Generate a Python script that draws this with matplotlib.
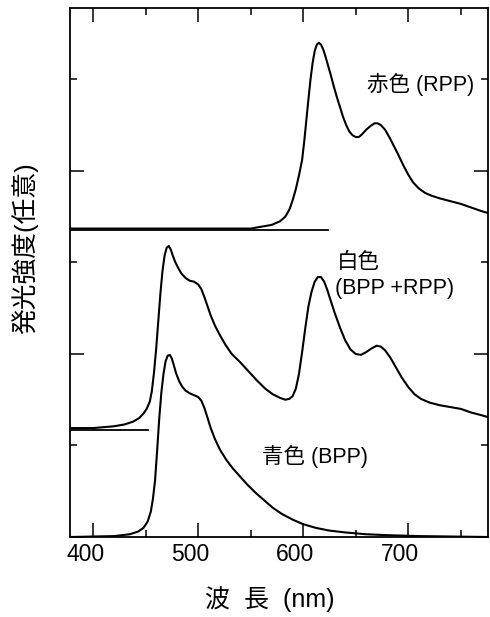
import numpy as np
import matplotlib
matplotlib.use("Agg")
import matplotlib.pyplot as plt
from matplotlib.ticker import MultipleLocator, FixedLocator
from matplotlib.transforms import ScaledTranslation

plt.rcParams['font.family'] = ['Liberation Sans', 'Noto Sans CJK JP', 'DejaVu Sans']

# emission spectra (wavelength nm, intensity in arb. stacked units)
blue_nm = [378, 420, 435, 443, 448, 452, 455, 457, 459, 461, 463, 465, 467, 469, 471, 473,
           475, 477, 479, 482, 485, 488, 492, 496, 500, 503, 506, 509, 512, 516, 521, 527,
           533, 540, 547, 555, 563, 571, 580, 590, 600, 612, 625, 640, 660, 680, 710, 776]
blue_int = [0.00, 0.01, 0.03, 0.06, 0.10, 0.17, 0.28, 0.42, 0.62, 0.95, 1.30, 1.58, 1.78,
            1.92, 1.98, 1.99, 1.95, 1.87, 1.79, 1.70, 1.64, 1.60, 1.57, 1.55, 1.53, 1.49,
            1.41, 1.30, 1.19, 1.07, 0.95, 0.84, 0.75, 0.66, 0.57, 0.48, 0.40, 0.32, 0.25,
            0.19, 0.14, 0.10, 0.07, 0.05, 0.03, 0.02, 0.01, 0.00]

white_nm = [378, 400, 420, 430, 438, 444, 448, 451, 454, 456, 458, 460, 462, 464, 466, 468,
            470, 472, 474, 476, 478, 481, 484, 488, 492, 496, 500, 503, 506, 509, 512, 516,
            521, 526, 532, 540, 548, 556, 564, 571, 578, 583, 587, 590, 593, 596, 599, 602,
            605, 608, 611, 614, 617, 620, 623, 626, 630, 635, 640, 645, 650, 655, 660, 665,
            670, 674, 678, 683, 688, 694, 700, 706, 712, 720, 730, 740, 750, 760, 770, 776]
white_int = [1.19, 1.19, 1.21, 1.23, 1.26, 1.30, 1.35, 1.40, 1.48, 1.60, 1.80, 2.05, 2.35,
             2.65, 2.90, 3.07, 3.16, 3.18, 3.14, 3.07, 3.01, 2.94, 2.88, 2.83, 2.80, 2.79,
             2.76, 2.71, 2.62, 2.52, 2.42, 2.31, 2.20, 2.10, 2.00, 1.91, 1.81, 1.71, 1.62,
             1.56, 1.52, 1.50, 1.51, 1.54, 1.62, 1.78, 2.02, 2.28, 2.52, 2.68, 2.79, 2.84,
             2.84, 2.79, 2.70, 2.59, 2.45, 2.29, 2.15, 2.05, 2.00, 1.99, 2.02, 2.06, 2.09,
             2.08, 2.04, 1.96, 1.86, 1.74, 1.64, 1.56, 1.51, 1.47, 1.44, 1.42, 1.40, 1.36,
             1.33, 1.31]

red_nm = [378, 502, 550, 560, 570, 578, 583, 587, 590, 593, 596, 599, 601, 603, 605, 607,
          609, 611, 613, 615, 617, 619, 621, 623, 626, 629, 632, 635, 638, 641, 644, 647,
          650, 653, 656, 660, 664, 668, 671, 674, 678, 682, 686, 690, 695, 700, 705, 710,
          716, 722, 730, 740, 750, 760, 770, 776]
red_int = [3.37, 3.37, 3.37, 3.39, 3.41, 3.45, 3.50, 3.58, 3.68, 3.80, 3.95, 4.12, 4.32,
           4.55, 4.78, 5.00, 5.18, 5.31, 5.38, 5.40, 5.38, 5.33, 5.26, 5.18, 5.06, 4.93,
           4.81, 4.70, 4.59, 4.50, 4.43, 4.39, 4.37, 4.37, 4.40, 4.45, 4.49, 4.52, 4.52,
           4.50, 4.45, 4.37, 4.28, 4.19, 4.07, 3.96, 3.87, 3.81, 3.76, 3.73, 3.70, 3.67,
           3.64, 3.60, 3.56, 3.54]

# zero lines of the stacked spectra
base_level = [3.355, 1.17]
base_end = [624, 452]

labels = ['赤色 (RPP)', '白色', '(BPP +RPP)', '青色 (BPP)']
label_x = [661, 632, 630.5, 561]
label_y = [4.94, 3.0, 2.71, 0.88]

fig = plt.figure(figsize=(4.9, 6.17), dpi=100)
ax = fig.add_axes([70 / 490, 1 - 537 / 617, 418 / 490, 529 / 617])

lw = 1.5
ax.plot(blue_nm, blue_int, color='black', lw=lw, solid_joinstyle='round')
ax.plot(white_nm, white_int, color='black', lw=lw, solid_joinstyle='round')
ax.plot(red_nm, red_int, color='black', lw=lw, solid_joinstyle='round')
for lev, end in zip(base_level, base_end):
    ax.plot([378, end], [lev, lev], color='black', lw=1.3)

for t, x, y in zip(labels, label_x, label_y):
    ax.text(x, y, t, fontsize=15.5, ha='left', va='center')

ax.set_xlim(378, 776)
ax.set_ylim(0, 5.78)
ax.xaxis.set_major_locator(MultipleLocator(100))
ax.xaxis.set_minor_locator(MultipleLocator(50))
ax.yaxis.set_major_locator(FixedLocator([0, 2, 4]))
ax.yaxis.set_minor_locator(FixedLocator([1, 3, 5]))
ax.tick_params(which='both', direction='in', top=True, right=True, width=1.1)
ax.tick_params(which='major', length=10)
ax.tick_params(which='minor', length=5)
ax.tick_params(axis='x', labelsize=16.5, pad=4)
ax.tick_params(axis='y', labelleft=False)
for s in ax.spines.values():
    s.set_linewidth(1.3)

# tick numbers sit a little left of their ticks in the original
shift = ScaledTranslation(-8 / 100, 0, fig.dpi_scale_trans)
for lab in ax.get_xticklabels():
    lab.set_transform(lab.get_transform() + shift)

fig.text(25 / 490, 1 - 248 / 617, '発光強度(任意)', rotation=90, ha='center', va='center',
         fontsize=18.5)
fig.text(270 / 490, 1 - 599 / 617, '波  長  (nm)', ha='center', va='center', fontsize=18)

fig.savefig('out.png', dpi=100)
